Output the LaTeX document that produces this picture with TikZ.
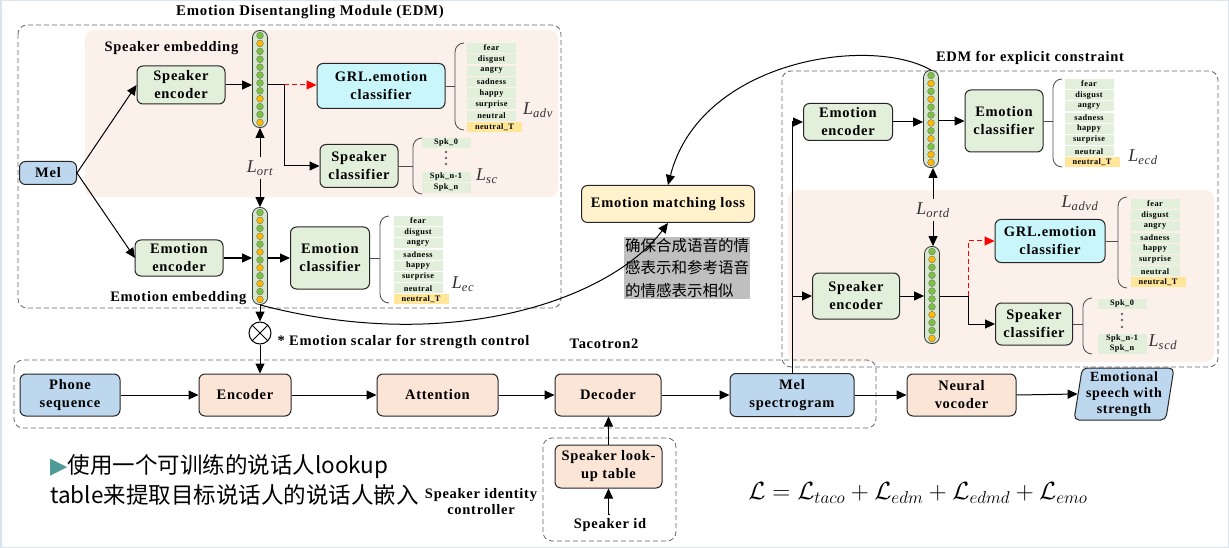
\documentclass[tikz,border=0pt]{standalone}
\usepackage{fontspec}
\setmainfont{Liberation Serif}[LetterSpace=5]
\newfontfamily\cjk{Noto Sans CJK SC}
\newfontfamily\dejavu{DejaVu Sans}
\usetikzlibrary{arrows.meta,shapes.geometric,calc}
\definecolor{gfill}{HTML}{E2EFDA}
\definecolor{bfill}{HTML}{BDD7EE}
\definecolor{pfill}{HTML}{FBE5D6}
\definecolor{cfill}{HTML}{C9F6FA}
\definecolor{yfill}{HTML}{FFF2CC}
\definecolor{tfill}{HTML}{FFE699}
\definecolor{pinkbg}{HTML}{FCF0EB}
\definecolor{vfill}{HTML}{D5E8CF}
\definecolor{gD}{HTML}{7DC142}
\definecolor{oD}{HTML}{FFB800}
\definecolor{graybox}{HTML}{BFBFBF}
\definecolor{tri}{HTML}{4E9A96}
\definecolor{frame}{HTML}{D8E4EE}
\tikzset{
  blk/.style={draw=black!85, line width=1pt, rounded corners=6pt, align=center, inner sep=1pt,
    font=\bfseries\fontsize{14.5}{18}\selectfont},
  grn/.style={blk, fill=gfill},
  blu/.style={blk, fill=bfill},
  pch/.style={blk, fill=pfill},
  cyn/.style={blk, fill=cfill},
  ylw/.style={blk, fill=yfill},
  arr/.style={-{Triangle[length=10pt,width=9pt]}, line width=1pt},
  redarr/.style={arr, red, dash pattern=on 5pt off 3pt},
  item/.style={fill=gfill, font=\bfseries\fontsize{8.3}{8.3}\selectfont, minimum width=49pt, minimum height=10pt, inner sep=0pt},
  itemT/.style={item, fill=tfill, minimum width=55pt},
  dashbox/.style={draw=black!60, dash pattern=on 5pt off 3pt, line width=0.8pt, rounded corners=9pt},
  lab/.style={font=\bfseries\fontsize{14.5}{16}\selectfont},
  loss/.style={text=black!80, font=\fontsize{18}{18}\selectfont\itshape},
  vecst/.style={draw=black!80, fill=vfill, line width=0.8pt, rounded corners=7pt, minimum width=15pt, minimum height=97pt, inner sep=0pt},
  brk/.style={draw=black!70, line width=0.8pt},
}
\newcommand\embvec[4]{%
  \node[vecst] (#1) at (#2,#3) {};
  \foreach \c [count=\i from 0] in {#4}
    \filldraw[fill=\c, draw=black!55, line width=0.4pt] (#2,{#3-43.45+\i*7.9}) circle (3.4);
}
\newcommand\brak[3]{%
  \draw[brk] (#1+9,#2) to[out=180,in=90] (#1,#2+9) -- (#1,#3-9) to[out=-90,in=180] (#1+9,#3);
}
\newcommand\emolist[3]{% x center, first y, step
  \foreach \t [count=\i from 0] in {fear,disgust,angry,sadness,happy,surprise,neutral}
    \node[item] at (#1,{#2+\i*#3}) {\t};
  \node[itemT] at (#1+3,{#2+7*#3}) {neutral\_T};
}
\begin{document}
\begin{tikzpicture}[x=1pt,y=-1pt]
\useasboundingbox (0,0) rectangle (1229,548);
\fill[white] (0,0) rectangle (1229,548);
\draw[frame, line width=3pt] (0,0) rectangle (1229,548);

% ---------------- left EDM ----------------
\node[lab, font=\bfseries\fontsize{14.8}{16}\selectfont] (t1) at (310,12) {Emotion Disentangling Module (EDM)};
\fill[pinkbg, rounded corners=9pt] (85,30) rectangle (558,197);
\draw[dashbox] (18,25) rectangle (561,308);
\node[lab, anchor=west] (spkemb) at (101,48) {Speaker embedding};

\node[blu, minimum width=57pt, minimum height=23pt] (mel) at (48,173) {Mel};
\node[grn, minimum width=88pt, minimum height=38pt] (se1) at (181,85) {Speaker\\encoder};
\embvec{v1}{260}{79}{gD,oD,gD,gD,gD,gD,gD,gD,oD,gD,gD,oD}
\node[cyn, minimum width=128pt, minimum height=45pt] (grl1) at (381,86) {GRL.emotion\\classifier};
\node[grn, minimum width=78pt, minimum height=43pt] (sc1) at (359,166) {Speaker\\classifier};

\draw[arr] (mel.east) -- (se1.west);
\draw[arr] (mel.east) -- (135,258);
\draw[arr] (se1.east) -- (se1.east -| v1.west);
\coordinate (j1) at (284,85);
\draw[line width=1pt] (v1.east |- j1) -- (j1);
\draw[redarr] (j1) -- (j1 -| grl1.west);
\draw[arr] (j1) |- (sc1.west);

\draw[brk] (grl1.east) -- (455,86);
\brak{455}{43}{130}
\emolist{491.5}{48}{11.3}
\node[loss] (ladv) at (538,110) {L\textsubscript{adv}};

\draw[brk] (sc1.east) -- (413,166);
\brak{413}{138}{194}
\node[item] (spk0) at (446,143) {Spk\_0};
\foreach \yy in {152,158,164} \fill[black!60] (446,\yy) circle (1.4);
\node[item] (spkn1) at (446,177) {Spk\_n-1};
\node[item] (spkn) at (446,188) {Spk\_n};
\node[loss] (lsc) at (487,176) {L\textsubscript{sc}};

\node[loss] (lort) at (260,168) {L\textsubscript{ort}};
\embvec{v2}{260}{256}{gD,oD,gD,oD,gD,oD,gD,oD,gD,oD,gD,oD}
\draw[arr] (lort.north) -- (v1.south);
\draw[arr] (lort.south) -- (v2.north);

\node[grn, minimum width=88pt, minimum height=36pt] (ee1) at (179,258) {Emotion\\encoder};
\node[grn, minimum width=79pt, minimum height=62pt] (ec1) at (330,258) {Emotion\\classifier};
\draw[arr] (ee1.east) -- (ee1.east -| v2.west);
\draw[arr] (v2.east |- ec1.west) -- (ec1.west);
\draw[brk] (ec1.east) -- (380,258);
\brak{380}{216}{303}
\emolist{418}{221}{11.2}
\node[loss] (lec) at (463,284) {L\textsubscript{ec}};
\node[lab, anchor=east] (emoemb) at (250,298) {Emotion embedding};

\node[circle, draw, line width=1pt, minimum size=22pt, inner sep=0pt,
  path picture={\draw[line width=1pt] (path picture bounding box.north west) -- (path picture bounding box.south east)
  (path picture bounding box.north east) -- (path picture bounding box.south west);}] (mul) at (260,333) {};
\node[lab, anchor=west] (scal) at (274,342) {* Emotion scalar for strength control};

% ---------------- emotion matching ----------------
\node[ylw, minimum width=173pt, minimum height=37pt] (eml) at (668,204) {Emotion matching loss};
\node[fill=graybox, anchor=north west, inner sep=1pt, align=left, font=\cjk\fontsize{15.5}{22.5}\selectfont] (cn1) at (624,237) {确保合成语音的情\\感表示和参考语音\\的情感表示相似};

% ---------------- right EDM ----------------
\node[lab] (t2) at (1030,58) {EDM for explicit constraint};
\fill[pinkbg, rounded corners=9pt] (788,190) rectangle (1214,362);
\draw[dashbox] (782,71) rectangle (1218,367);

\node[grn, minimum width=89pt, minimum height=37pt] (ee2) at (848,122) {Emotion\\encoder};
\embvec{v3}{931}{119}{gD,oD,gD,oD,gD,gD,oD,gD,oD,gD,oD,oD}
\node[grn, minimum width=78pt, minimum height=62pt] (ec2) at (1004,121) {Emotion\\classifier};
\draw[arr] (ee2.east) -- (ee2.east -| v3.west);
\draw[arr] (v3.east |- ec2.west) -- (ec2.west);
\draw[brk] (ec2.east) -- (1053,121);
\brak{1053}{79}{167}
\emolist{1089}{84}{11.2}
\node[loss] (lecd) at (1143,157) {L\textsubscript{ecd}};

\node[loss] (lortd) at (933,210) {L\textsubscript{ortd}};
\node[loss] (ladvd) at (1080,203) {L\textsubscript{advd}};
\node[cyn, minimum width=110pt, minimum height=43pt] (grl2) at (1050,241) {GRL.emotion\\classifier};
\draw[brk] (grl2.east) -- (1118,241);
\brak{1118}{197}{288}
\emolist{1155}{204}{11.2}

\node[grn, minimum width=87pt, minimum height=46pt] (se2) at (856,296) {Speaker\\encoder};
\embvec{v4}{932}{295}{gD,oD,gD,gD,gD,gD,gD,gD,oD,gD,gD,oD}
\node[grn, minimum width=77pt, minimum height=42pt] (sc2) at (1034,324) {Speaker\\classifier};
\draw[arr] (lortd.north) -- (lortd.north |- v3.south);
\draw[arr] (lortd.south) -- (lortd.south |- v4.north);
\draw[arr] (se2.east) -- (se2.east -| v4.west);
\coordinate (j2) at (968,296);
\draw[line width=1pt] (v4.east |- j2) -- (j2);
\draw[redarr] (j2) |- (grl2.west);
\draw[arr] (j2) |- (sc2.west);
\draw[brk] (sc2.east) -- (1083,324);
\brak{1083}{298}{354}
\node[item] (rspk0) at (1122,304) {Spk\_0};
\foreach \yy in {314,320,327} \fill[black!60] (1122,\yy) circle (1.4);
\node[item] (rspkn1) at (1122,339) {Spk\_n-1};
\node[item] (rspkn) at (1122,349) {Spk\_n};
\node[loss] (lscd) at (1163,342) {L\textsubscript{scd}};

% ---------------- Tacotron2 ----------------
\draw[dashbox] (14,360) rectangle (876,428);
\node[lab] (taco) at (604,344) {Tacotron2};
\node[blu, minimum width=100pt, minimum height=42pt] (phone) at (70,395) {Phone\\sequence};
\node[pch, minimum width=92pt, minimum height=42pt] (enc) at (245,395) {Encoder};
\node[pch, minimum width=121pt, minimum height=42pt] (att) at (437.5,395) {Attention};
\node[pch, minimum width=106pt, minimum height=42pt] (dec) at (608,395) {Decoder};
\node[blu, minimum width=124pt, minimum height=43pt] (mel2) at (792,395) {Mel\\spectrogram};
\node[pch, minimum width=109pt, minimum height=42pt] (voc) at (961.5,395) {Neural\\vocoder};
\node[blu, trapezium, trapezium left angle=80, trapezium right angle=100, trapezium stretches body,
  minimum width=100pt, minimum height=52pt, rounded corners=5pt, font=\bfseries\fontsize{14}{16}\selectfont] (out) at (1124,394) {Emotional\\speech with\\strength};

\draw[arr] (phone.east) -- (enc.west);
\draw[arr] (enc.east) -- (att.west);
\draw[arr] (att.east) -- (dec.west);
\draw[arr] (dec.east) -- (mel2.west);
\draw[arr] (mel2.east) -- (voc.west);
\draw[arr] (voc.east) -- (out.west);

\draw[arr] (v2.south) -- (mul.north);
\draw[arr] (mul.south) -- (mul.south |- enc.north);

% feed from Mel spectrogram into right EDM
\coordinate (up1) at (792,122);
\coordinate (up2) at (792,296);
\draw[line width=1pt] (mel2.north) -- (up1);
\draw[arr] (up1) -- (ee2.west);
\draw[arr] (up2) -- (se2.west);

% emotion matching curves
\draw[arr] (v2.south) .. controls (450,355) and (610,300) .. (eml.south);
\draw[arr] (v3.north) .. controls (870,35) and (700,60) .. (eml.north);

% ---------------- speaker identity ----------------
\draw[dashbox] (543,438) rectangle (676,541);
\node[pch, minimum width=107pt, minimum height=43pt] (lookup) at (608.5,466.5) {Speaker look-\\up table};
\node[lab] (spkid) at (610,525) {Speaker id};
\draw[arr] (spkid.north) -- (spkid.north -| lookup.south) -- (lookup.south);
\draw[arr] (lookup.north) -- (lookup.north |- dec.south);
\node[lab, align=center] (sic) at (481,502) {Speaker identity\\controller};

% ---------------- notes ----------------
\node[anchor=west, inner sep=0pt, font=\cjk\fontsize{22.5}{22.5}\selectfont] (n1) at (50,467) {{\dejavu\color{tri}▶}使用一个可训练的说话人lookup};
\node[anchor=west, inner sep=0pt, font=\cjk\fontsize{22.5}{22.5}\selectfont] (n2) at (50,495) {table来提取目标说话人的说话人嵌入};
\node[font=\fontsize{23.5}{24}\selectfont] (form) at (918,493) {$\mathcal{L} = \mathcal{L}_{taco} + \mathcal{L}_{edm} + \mathcal{L}_{edmd} + \mathcal{L}_{emo}$};
\end{tikzpicture}
\end{document}
